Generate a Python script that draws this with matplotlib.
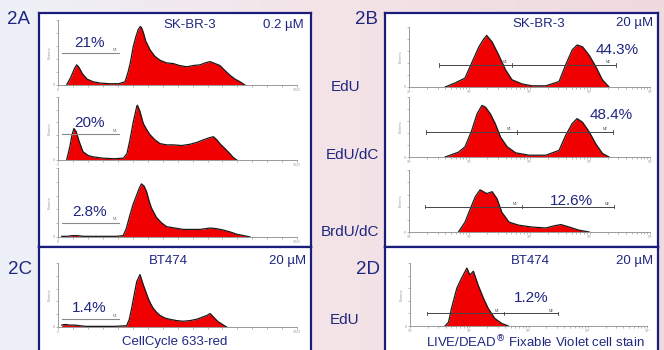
import numpy as np
import matplotlib.pyplot as plt

plt.rcParams['font.family'] = ['Liberation Sans', 'DejaVu Sans']

# ---- data (heights are fraction of axis height) ----
# 2A, linear channels 0..1023
a1_x = [37, 55, 70, 80, 90, 105, 125, 150, 180, 220, 260, 287, 300, 310, 322, 333, 343, 352, 358, 366,
        375, 394, 415, 437, 465, 493, 520, 551, 580, 608, 630, 651, 672, 693, 715, 736, 758, 779, 800]
a1_y = [0, 0.12, 0.25, 0.31, 0.27, 0.17, 0.09, 0.05, 0.03, 0.02, 0.02, 0.05, 0.20, 0.35, 0.59, 0.74,
        0.85, 0.90, 0.88, 0.80, 0.68, 0.54, 0.44, 0.38, 0.34, 0.33, 0.30, 0.28, 0.30, 0.31, 0.34, 0.36,
        0.33, 0.30, 0.22, 0.15, 0.09, 0.05, 0]
a2_x = [37, 50, 60, 68, 78, 90, 107, 130, 150, 190, 240, 280, 295, 308, 322, 337, 340, 350, 365, 380,
        394, 415, 437, 465, 493, 530, 565, 595, 622, 645, 665, 680, 693, 715, 736, 750, 765]
a2_y = [0, 0.20, 0.40, 0.50, 0.45, 0.30, 0.13, 0.07, 0.05, 0.03, 0.02, 0.03, 0.10, 0.32, 0.60, 0.85,
        0.87, 0.78, 0.58, 0.48, 0.40, 0.32, 0.26, 0.24, 0.24, 0.23, 0.25, 0.28, 0.32, 0.35, 0.37, 0.32,
        0.26, 0.18, 0.10, 0.04, 0]
a3_x = [16, 40, 60, 80, 110, 150, 200, 250, 279, 292, 308, 322, 337, 347, 357, 368, 379, 390, 400, 422,
        445, 465, 500, 536, 570, 608, 630, 651, 680, 708, 740, 765, 795, 822]
a3_y = [0.01, 0.01, 0.02, 0.02, 0.01, 0.01, 0.01, 0.01, 0.02, 0.12, 0.32, 0.48, 0.61, 0.70, 0.77, 0.74,
        0.66, 0.52, 0.42, 0.28, 0.20, 0.15, 0.13, 0.11, 0.11, 0.11, 0.12, 0.13, 0.12, 0.10, 0.07, 0.04,
        0.02, 0]
c_x = [16, 30, 50, 70, 94, 120, 180, 240, 294, 305, 315, 326, 337, 351, 365, 376, 386, 397, 408, 422,
       437, 458, 479, 508, 536, 565, 593, 608, 622, 637, 651, 662, 672, 686, 700, 712, 722]
c_y = [0.03, 0.04, 0.03, 0.03, 0.02, 0.01, 0.01, 0.01, 0.02, 0.12, 0.29, 0.50, 0.71, 0.82, 0.66, 0.55,
       0.45, 0.36, 0.29, 0.23, 0.18, 0.14, 0.12, 0.10, 0.09, 0.10, 0.12, 0.14, 0.16, 0.18, 0.21, 0.17,
       0.13, 0.08, 0.05, 0.02, 0]

# 2B / 2D, log10 of intensity (axis 10^0..10^4)
b1_x = [0.60, 0.77, 0.93, 1.04, 1.16, 1.24, 1.29, 1.38, 1.49, 1.60, 1.71, 1.88, 2.04, 2.27, 2.49, 2.60,
        2.71, 2.79, 2.88, 2.99, 3.10, 3.21, 3.32]
b1_y = [0, 0.07, 0.15, 0.40, 0.67, 0.80, 0.86, 0.75, 0.53, 0.29, 0.12, 0.05, 0.02, 0.02, 0.09, 0.37,
        0.62, 0.70, 0.67, 0.53, 0.34, 0.12, 0]
b2_x = [0.60, 0.82, 0.93, 1.04, 1.13, 1.21, 1.27, 1.35, 1.43, 1.52, 1.63, 1.77, 1.99, 2.27, 2.49, 2.60,
        2.71, 2.79, 2.88, 2.99, 3.10, 3.21, 3.32]
b2_y = [0, 0.08, 0.17, 0.44, 0.72, 0.86, 0.83, 0.72, 0.56, 0.33, 0.17, 0.07, 0.03, 0.03, 0.11, 0.36,
        0.56, 0.64, 0.58, 0.42, 0.22, 0.06, 0]
b3_x = [0.82, 0.93, 1.02, 1.10, 1.18, 1.29, 1.38, 1.46, 1.54, 1.66, 1.82, 2.04, 2.27, 2.41, 2.52, 2.66,
        2.82, 2.99]
b3_y = [0, 0.16, 0.38, 0.57, 0.68, 0.62, 0.65, 0.54, 0.32, 0.16, 0.11, 0.08, 0.065, 0.10, 0.12, 0.08,
        0.03, 0]
d_x = [0.59, 0.65, 0.70, 0.79, 0.87, 0.96, 1.01, 1.07, 1.15, 1.24, 1.32, 1.43, 1.55, 1.66]
d_y = [0, 0.06, 0.28, 0.60, 0.76, 0.92, 0.81, 0.87, 0.65, 0.44, 0.28, 0.12, 0.04, 0]

# gates: (height, start, end)
a_gates = [(0.49, 16, 262), (0.42, 16, 262), (0.21, 16, 262), (0.13, 16, 262)]
b_gates = [(0.37, 0.49, 1.71, 3.43), (0.42, 0.29, 1.79, 3.38), (0.41, 0.27, 1.88, 3.41),
           (0.20, 0.28, 1.59, 2.50)]
a_pcts = ['21%', '20%', '2.8%', '1.4%']
b_pcts = ['44.3%', '48.4%', '12.6%', '1.2%']
log_ticks = ['10⁰', '10¹', '10²', '10³', '10⁴']

W, H = 664, 350
navy = '#1f2680'
border = '#1c1c7c'
red = '#f00000'

fig = plt.figure(figsize=(6.64, 3.5), dpi=100)


def frac(x0, y0, x1, y1):
    return [x0 / W, 1 - y1 / H, (x1 - x0) / W, (y1 - y0) / H]


# background gradient
bg = fig.add_axes([0, 0, 1, 1], zorder=-5)
c0 = np.array([0.935, 0.945, 0.975])
c1 = np.array([0.955, 0.890, 0.905])
c2 = np.array([0.935, 0.855, 0.875])
t = np.linspace(0, 1, 300)[:, None]
grad = np.where(t < 0.5, c0 + (c1 - c0) * t * 2, c1 + (c2 - c1) * (t - 0.5) * 2)
bg.imshow(grad[None, :, :], aspect='auto', extent=[0, 1, 0, 1])
bg.axis('off')

# panel boxes
for x0, y0, x1, y1 in [(39, 13, 311, 247), (39, 247, 311, 353), (385, 13, 658, 247), (385, 247, 658, 353)]:
    r = fig.add_axes(frac(x0, y0, x1, y1), zorder=-1)
    r.set_xticks([]); r.set_yticks([])
    r.set_facecolor('white')
    for s in r.spines.values():
        s.set_color(border); s.set_linewidth(1.6)


def style(ax):
    for s in ['top', 'right']:
        ax.spines[s].set_visible(False)
    for s in ['left', 'bottom']:
        ax.spines[s].set_color('#9a9a9a'); ax.spines[s].set_linewidth(0.7)
    ax.patch.set_alpha(0)
    ax.set_ylim(0, 1)
    ax.set_yticks([0, 0.2, 0.4, 0.6, 0.8, 1.0])
    ax.set_yticklabels(['0', '', '', '', '', ''])
    ax.tick_params(which='both', colors='#9a9a9a', labelsize=2.5, length=1.5, width=0.5, pad=0.5)
    ax.set_ylabel('Events', fontsize=3, color='#9a9a9a', labelpad=1)


# 2A + 2C histograms
a_rects = [(58, 20, 297, 85), (58, 97, 297, 160), (58, 168, 297, 237), (58, 263, 297, 327)]
a_data = [(a1_x, a1_y), (a2_x, a2_y), (a3_x, a3_y), (c_x, c_y)]
for rect, (xs, ys), g, p in zip(a_rects, a_data, a_gates, a_pcts):
    ax = fig.add_axes(frac(*rect))
    style(ax)
    ax.set_xlim(0, 1023)
    ax.fill_between(xs, ys, color=red, lw=0)
    ax.plot(xs, ys, color='#1a1a1a', lw=0.9)
    ax.set_xticks([0, 1023]); ax.set_xticklabels(['0', '1023'])
    ax.set_xticks(np.arange(0, 1024, 64), minor=True)
    h, s0, s1 = g
    ax.plot([s0, s1], [h, h], color='#8a8a8a', lw=0.8)
    ax.text(s1 - 8, h + 0.03, 'M1', fontsize=2.5, color='#777', ha='right')
    ax.text((s0 + s1) / 2 - 5, h + 0.05, p, fontsize=11, color=navy, ha='center', va='bottom')

# 2B + 2D histograms (log axis)
b_rects = [(409, 27, 650, 87), (409, 97, 650, 157), (409, 170, 650, 232), (410, 263, 647, 326)]
b_data = [(b1_x, b1_y), (b2_x, b2_y), (b3_x, b3_y), (d_x, d_y)]
b_pct_pos = [(3.45, 0.62), (3.35, 0.70), (2.70, 0.50), (2.05, 0.45)]
for rect, (xs, ys), g, p, pp in zip(b_rects, b_data, b_gates, b_pcts, b_pct_pos):
    ax = fig.add_axes(frac(*rect))
    style(ax)
    ax.set_xscale('log')
    ax.set_xlim(1, 1e4)
    ax.set_xticks([1, 10, 100, 1000, 10000])
    ax.set_xticklabels(log_ticks)
    xv = 10 ** np.array(xs)
    ax.fill_between(xv, ys, color=red, lw=0)
    ax.plot(xv, ys, color='#1a1a1a', lw=0.9)
    h, s0, s1, s2 = g
    ax.plot([10 ** s0, 10 ** s2], [h, h], color='#444', lw=0.7)
    for sx in [s0, s1, s2]:
        ax.plot([10 ** sx] * 2, [h - 0.03, h + 0.03], color='#444', lw=0.6)
    ax.text(10 ** (s1 - 0.08), h + 0.03, 'M1', fontsize=2.5, color='#555', ha='right')
    ax.text(10 ** (s2 - 0.08), h + 0.03, 'M2', fontsize=2.5, color='#555', ha='right')
    ax.text(10 ** pp[0], pp[1], p, fontsize=11, color=navy, ha='center', va='center')


# labels
def label(px, py, s, size, **kw):
    fig.text(px / W, 1 - py / H, s, fontsize=size, color=navy, ha='center', va='center', **kw)


label(19, 20, '2A', 13.5)
label(367, 20, '2B', 13.5)
label(20, 270, '2C', 13.5)
label(368, 270, '2D', 13.5)
label(190, 25, 'SK-BR-3', 9.5)
label(283, 25, '0.2 µM', 9.5)
label(539, 24, 'SK-BR-3', 9.5)
label(635, 23, '20 µM', 9.5)
label(168, 261, 'BT474', 9.5)
label(288, 261, '20 µM', 9.5)
label(530, 261, 'BT474', 9.5)
label(635, 261, '20 µM', 9.5)
label(175, 342, 'CellCycle 633-red', 9.5)
label(535, 342, r'LIVE/DEAD$^{\circledR}$ Fixable Violet cell stain', 9.5)
label(346, 87, 'EdU', 11)
label(352, 155, 'EdU/dC', 11)
label(350, 232, 'BrdU/dC', 11)
label(345, 320, 'EdU', 11)

fig.savefig('out.png', dpi=100)
